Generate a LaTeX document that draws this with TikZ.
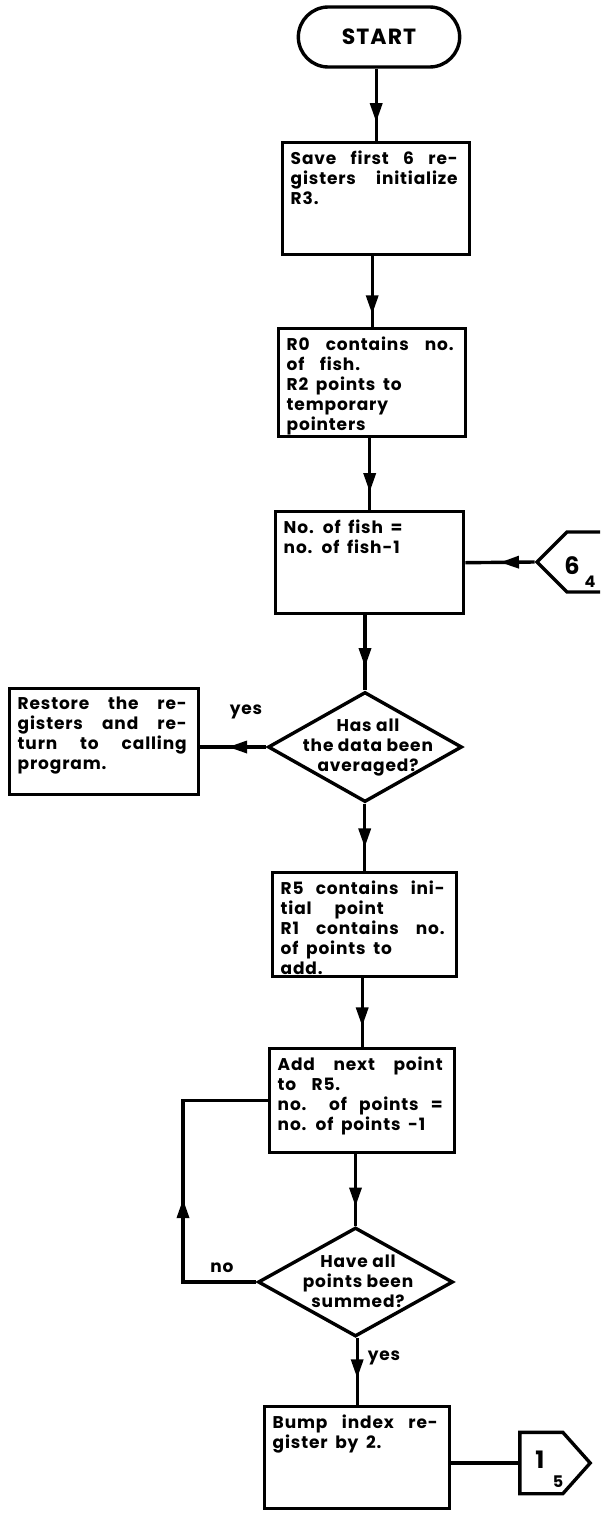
\documentclass[tikz,border=0pt]{standalone}
\usepackage{fontspec}
\newfontfamily\lf{Poppins}[LetterSpace=5]
\usetikzlibrary{shapes.geometric,shapes.misc,shapes.symbols,arrows.meta,decorations.markings}
\newcommand\full[1]{\makebox[\dimexpr\linewidth-4pt\relax][s]{#1}}
\newcommand\btext[3]{\parbox[c][\dimexpr#2pt-18pt\relax][t]{\dimexpr#1pt-16pt\relax}{\raggedright\spaceskip=0.45em plus 0.3em\relax #3}}
\tikzset{
  ln/.style={line width=3.4pt},
  txt/.style={font=\lf\bfseries\fontsize{17}{20}\selectfont},
  box/.style={draw, ln, txt, inner xsep=8pt, inner ysep=8pt, anchor=north west},
  term/.style={rounded rectangle, draw, ln, minimum width=168pt, minimum height=60pt, font=\lf\bfseries\fontsize{22}{24}\selectfont},
  dia/.style={diamond, draw, ln, inner sep=0pt},
  dtext/.style={align=center, inner sep=0pt, txt},
  lbl/.style={inner sep=0pt, txt},
  conn/.style={signal, draw, ln, inner sep=0pt},
  midarrow/.style={postaction={decorate}, decoration={markings, mark=at position #1 with {\arrow{Triangle[length=19pt,width=12pt]}}}}
}
\begin{document}
\begin{tikzpicture}[x=1pt,y=-1pt]
\useasboundingbox (0,0) rectangle (600,1513);
\clip (0,0) rectangle (600,1513);
\fill[white] (0,0) rectangle (600,1513);
% nodes
\node[term] (start) at (379,37) {START};
\node[box] (b1) at (281,141) {\btext{187}{114}{\full{Save first 6 re-}\\\full{gisters initialize}\\R3.}};
\node[box] (b2) at (277,327) {\btext{187}{110}{\full{R0 contains no.}\\of \ fish.\\R2 points to\\temporary\\pointers}};
\node[box] (b3) at (274,510) {\btext{188}{104}{No. of fish =\\no. of fish-1}};
\node[conn, signal to=west and east, minimum width=110pt, minimum height=60pt] (c64) at (592,562) {};
\node[lbl, font=\lf\bfseries\fontsize{24}{26}\selectfont] (c64a) at (572,566) {6};
\node[lbl, font=\lf\bfseries\fontsize{16}{18}\selectfont] (c64b) at (590,582) {4};
\node[dia, minimum width=194pt, minimum height=110pt] (d1) at (365,747) {};
\node[dtext] (d1t) at (368,748) {Has all\\the data been\\averaged?};
\node[box] (rb) at (8,687) {\btext{189}{108}{\full{Restore the re-}\\\full{gisters and re-}\\\full{turn to calling}\\program.}};
\node[lbl] (yes1) at (246,712) {yes};
\node[box] (b4) at (271,871) {\btext{184}{106}{\full{R5 contains ini-}\\tial \ \ point\\\full{R1 contains no.}\\of points to\\add.}};
\node[box] (b5) at (268,1047) {\btext{185}{106}{\full{Add next point}\\to \ R5.\\\full{no. of points =}\\no. of points -1}};
\node[dia, minimum width=195pt, minimum height=109pt] (d2) at (355.5,1282) {};
\node[dtext] (d2t) at (358,1281) {Have all\\points been\\summed?};
\node[lbl] (no) at (222,1268) {no};
\node[lbl] (yes2) at (384,1358) {yes};
\node[box] (b6) at (263,1405) {\btext{185}{104}{\full{Bump index re-}\\gister by 2.}};
\node[inner sep=0pt, minimum width=70pt, minimum height=61pt] (c15) at (555,1463) {};
\draw[ln, line join=miter] (c15.north west) -- ([xshift=43pt]c15.north west) -- (c15.east) -- ([xshift=43pt]c15.south west) -- (c15.south west) -- cycle;
\node[lbl, font=\lf\bfseries\fontsize{24}{26}\selectfont] (c15a) at (540,1460) {1};
\node[lbl, font=\lf\bfseries\fontsize{16}{18}\selectfont] (c15b) at (558,1482) {5};
\coordinate (lx) at (183,0);
% connectors
\draw[ln, midarrow=0.74] (start.south -| b1.north) -- (b1.north);
\draw[ln, midarrow=0.82] (b1.south -| b2.north) -- (b2.north);
\draw[ln, midarrow=0.75] (b2.south -| b3.north) -- (b3.north);
\draw[ln, midarrow=0.69] (b3.south -| d1.north) -- (d1.north);
\draw[ln, midarrow=0.65] (d1.south -| b4.north) -- (b4.north);
\draw[ln, midarrow=0.7] (b4.south -| b5.north) -- (b5.north);
\draw[ln, midarrow=0.73] (b5.south -| d2.north) -- (d2.north);
\draw[ln, midarrow=0.6] (d2.south -| b6.north) -- (b6.north);
\draw[ln, midarrow=0.5] (c64.west) -- (b3.east);
\draw[ln, midarrow=0.58] (d1.west) -- (d1.west -| rb.east);
\draw[ln, midarrow=0.46] (d2.west) -- (d2.west -| lx) -- (b5.west -| lx) -- (b5.west);
\draw[ln] (b6.east |- c15.west) -- (c15.west);
\end{tikzpicture}
\end{document}
